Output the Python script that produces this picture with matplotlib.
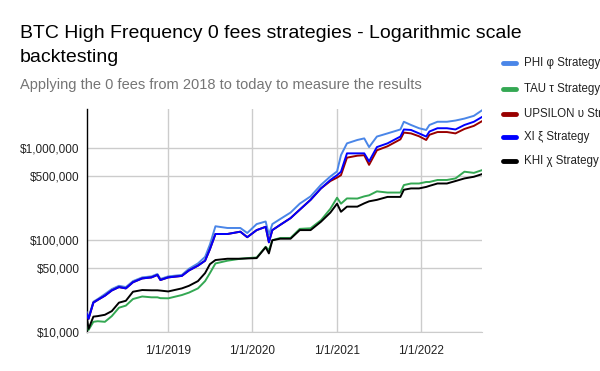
import matplotlib
matplotlib.use("Agg")
import matplotlib.pyplot as plt
import matplotlib.ticker as mticker
import numpy as np
import pandas as pd

plt.rcParams['font.family'] = ['Liberation Sans', 'DejaVu Sans']

dates = pd.to_datetime([
    "2018-01-12", "2018-01-20", "2018-02-10", "2018-03-01", "2018-04-01", "2018-05-01",
    "2018-06-01", "2018-07-01", "2018-08-01", "2018-09-10", "2018-10-20", "2018-11-15",
    "2018-11-28", "2019-01-01", "2019-03-01", "2019-04-01", "2019-05-10", "2019-06-10",
    "2019-07-01", "2019-07-25", "2019-09-15", "2019-11-10", "2019-12-10", "2020-01-20",
    "2020-02-28", "2020-03-13", "2020-03-28", "2020-05-01", "2020-06-15", "2020-07-25",
    "2020-09-10", "2020-10-25", "2020-12-05", "2021-01-03", "2021-01-20", "2021-02-15",
    "2021-04-01", "2021-05-01", "2021-05-22", "2021-06-25", "2021-08-10", "2021-10-05",
    "2021-10-20", "2021-11-20", "2021-12-25", "2022-01-25", "2022-02-08", "2022-03-15",
    "2022-04-25", "2022-06-01", "2022-07-10", "2022-08-20", "2022-09-26",
])

# values in thousands of dollars
phi_k = [16.5, 14.5, 21.5, 23, 26, 29.5, 32, 31, 36, 39.5, 40.5, 43, 38, 40.5, 42, 49, 56, 66,
         90, 142, 136, 136, 120, 150, 160, 115, 150, 170, 200, 250, 300, 400, 494, 560, 842,
         1130, 1230, 1280, 1030, 1340, 1450, 1600, 1940, 1790, 1650, 1580, 1790, 1940, 1940,
         2000, 2100, 2250, 2600]
tau_k = [13, 10.6, 13, 13.2, 13, 15, 18.5, 19.5, 23, 24.5, 24, 24, 23.5, 23.4, 25.4, 27, 30, 36,
         44, 56, 60, 63, 64, 65, 85, 78, 100, 106, 106, 133, 135, 165, 220, 290, 250, 285, 284,
         300, 308, 340, 330, 330, 398, 414, 414, 430, 430, 452, 452, 470, 556, 540, 580]
upsilon_k = [16, 14, 21, 22.5, 25, 28.5, 31, 30, 35, 38.5, 39.5, 42, 37, 39.5, 41, 47, 53, 60,
             80, 117, 117, 124, 108, 129, 140, 95, 129, 147, 174, 215, 275, 366, 440, 480, 510,
             790, 830, 840, 660, 950, 1050, 1250, 1480, 1450, 1350, 1230, 1400, 1500, 1500,
             1450, 1620, 1750, 1980]
xi_k = [16, 14, 21, 22.5, 25, 28.5, 31, 30, 35, 38.5, 39.5, 42, 37, 39.5, 41, 47, 53, 60,
        80, 117, 117, 124, 108, 129, 140, 95, 129, 147, 174, 215, 275, 366, 452, 510, 556,
        880, 880, 880, 720, 1030, 1130, 1340, 1600, 1580, 1450, 1340, 1520, 1650, 1650,
        1600, 1790, 1940, 2200]
khi_k = [14.8, 10.9, 14.8, 15, 15.5, 17, 21, 22, 27.6, 28.8, 28.6, 28.6, 28.4, 27.8, 30, 32, 36,
         44, 55, 61, 63, 63, 63.5, 64, 84, 72, 100, 104, 104, 129, 129, 159, 200, 250, 204,
         232, 232, 252, 265, 275, 296, 296, 354, 366, 366, 380, 390, 414, 414, 440, 470, 490, 525]

series_names = ["PHI φ Strategy", "TAU τ Strategy", "UPSILON υ Strategy", "XI ξ Strategy", "KHI χ Strategy"]
series_vals = [phi_k, tau_k, upsilon_k, xi_k, khi_k]
series_colors = ["#4a86e8", "#34a853", "#990000", "#0000ff", "#000000"]

y_ticks = [10000, 50000, 100000, 500000, 1000000]
x_ticks = pd.to_datetime(["2019-01-01", "2020-01-01", "2021-01-01", "2022-01-01"])

fig = plt.figure(figsize=(6.0, 3.71), dpi=100)
ax = fig.add_axes([0.1445, 0.1043, 0.6595, 0.6011])

order = [1, 4, 0, 2, 3]
for i in order:
    ax.plot(dates, np.array(series_vals[i]) * 1000, color=series_colors[i], lw=1.4,
            solid_joinstyle='round', zorder=3 + order.index(i))

ax.set_yscale('log')
ax.set_ylim(10000, 2.65e6)
ax.set_xlim(pd.Timestamp("2018-01-12"), pd.Timestamp("2022-09-26"))
ax.set_yticks(y_ticks)
ax.yaxis.set_major_formatter(mticker.FuncFormatter(lambda v, p: "${:,.0f}".format(v)))
ax.yaxis.set_minor_locator(mticker.NullLocator())
ax.set_xticks(x_ticks)
ax.set_xticklabels(["1/1/2019", "1/1/2020", "1/1/2021", "1/1/2022"])

ax.grid(True, color="#cccccc", lw=1.0)
ax.set_axisbelow(True)
for s in ["top", "right"]:
    ax.spines[s].set_visible(False)
ax.spines["bottom"].set_color("#cccccc")
ax.spines["left"].set_color("#000000")
ax.spines["left"].set_linewidth(1.0)
ax.tick_params(axis='both', length=0, labelsize=8.5, colors="#222222", pad=5)
ax.tick_params(axis='x', pad=9)

fig.text(0.033, 0.897, "BTC High Frequency 0 fees strategies - Logarithmic scale",
         fontsize=14, color="#000000", va="baseline")
fig.text(0.033, 0.834, "backtesting", fontsize=14, color="#000000", va="baseline")
fig.text(0.033, 0.760, "Applying the 0 fees from 2018 to today to measure the results",
         fontsize=10.5, color="#757575", va="baseline")

leg_y = [63, 89, 114, 137, 161]
for name, col, yy in zip(series_names, series_colors, leg_y):
    fig.add_artist(plt.Line2D([503 / 600, 516 / 600], [1 - yy / 371, 1 - yy / 371],
                              color=col, lw=3.5, solid_capstyle='round'))
    fig.text(524 / 600, 1 - yy / 371, name, fontsize=8.3, color="#222222", va="center")

fig.savefig("out.png", dpi=100)
